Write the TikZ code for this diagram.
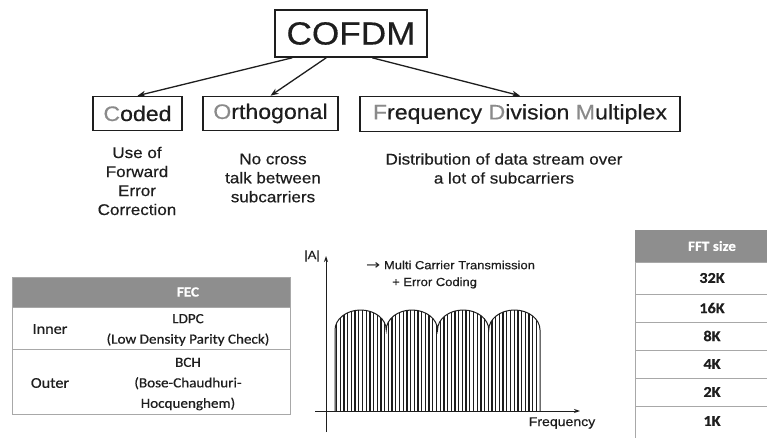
\documentclass[tikz,border=0pt]{standalone}
\usepackage{fontspec}
\setmainfont{Liberation Sans}[FakeStretch=1.1,FakeBold=0.4]
\newfontfamily\tabfont{Carlito}[FakeStretch=1.08,FakeBold=0.6]
\newfontfamily\symfont{DejaVu Sans}[FakeStretch=1.3]
\usetikzlibrary{arrows.meta}
\definecolor{lgr}{HTML}{8A8A8A}
\definecolor{hdr}{HTML}{8E8E8E}
\definecolor{tline}{HTML}{A8A8A8}
\definecolor{ink}{HTML}{1E1E1E}
\tikzset{
  topbox/.style={draw=ink, line width=1.6pt, inner sep=0pt, text=ink},
  conn/.style={-{Stealth[length=8pt,width=6pt]}, line width=1.3pt, draw=ink},
  axisarrow/.style={-{Stealth[length=6pt,width=4pt]}, line width=1pt, draw=ink},
  desc/.style={align=center, text=ink, inner sep=0pt, font=\fontsize{15.5}{19}\selectfont},
  plotlbl/.style={text=ink, inner sep=0pt, font=\fontsize{11.8}{14}\selectfont},
  tabtxt/.style={align=center, text=ink, inner sep=0pt, font=\tabfont\fontsize{14}{20.5}\selectfont},
  sidetxt/.style={text=ink, inner sep=0pt, font=\tabfont\fontsize{15}{18}\selectfont},
  fftxt/.style={text=ink, inner sep=0pt, font=\tabfont\bfseries\fontsize{15}{17}\selectfont},
  hdrtxt/.style={text=white, inner sep=0pt, font=\tabfont\bfseries\fontsize{14}{17}\selectfont},
  tabline/.style={draw=tline, line width=0.8pt}
}
\newcommand\humpoutline{(335,411) -- (335,330)
  \foreach \a in {335,386.25,437.5,488.75} {
    .. controls (\a,318.96) and ({\a+11.475},310) .. ({\a+25.625},310)
    .. controls ({\a+39.775},310) and ({\a+51.25},318.96) .. ({\a+51.25},330)
  } -- (540,411)}
\begin{document}
\begin{tikzpicture}[x=1pt,y=-1pt]
\useasboundingbox[fill=white] (0,0) rectangle (767,438);

% top boxes
\node[topbox, minimum width=152pt, minimum height=47pt, font=\fontsize{32}{36}\selectfont] (cofdm) at (351,33.5) {COFDM};
\node[topbox, minimum width=89pt, minimum height=34pt, font=\fontsize{21}{24}\selectfont] (coded) at (137.5,113.5) {{\color{lgr}C}oded};
\node[topbox, minimum width=135pt, minimum height=34pt, font=\fontsize{21}{24}\selectfont] (orth) at (270.5,113.5) {{\color{lgr}O}rthogonal};
\node[topbox, minimum width=320pt, minimum height=35pt, font=\fontsize{21}{24}\selectfont] (fdm) at (520,114) {{\color{lgr}F}requency {\color{lgr}D}ivision {\color{lgr}M}ultiplex};

\draw[conn] ([xshift=18pt]cofdm.south west) -- (coded.north);
\draw[conn] ([xshift=52pt]cofdm.south west) -- (orth.north);
\draw[conn] ([xshift=98pt]cofdm.south west) -- (fdm.north);

% descriptions
\node[desc] (d1) at (137,181) {Use of\\Forward\\Error\\Correction};
\node[desc] (d2) at (273,178) {No cross\\talk between\\subcarriers};
\node[desc] (d3) at (504,168.5) {Distribution of data stream over\\a lot of subcarriers};

% FEC table
\fill[hdr] (12,277) rectangle (290,307);
\draw[tabline] (12,277) rectangle (290,414);
\draw[tabline] (12,307) -- (290,307);
\draw[tabline] (12,349) -- (290,349);
\node[hdrtxt] (fech) at (188,292) {FEC};
\node[sidetxt] (inner) at (50,329) {Inner};
\node[tabtxt] (ldpc) at (188,330) {LDPC\\(Low Density Parity Check)};
\node[sidetxt] (outer) at (50,383) {Outer};
\node[tabtxt] (bch) at (188,384) {BCH\\(Bose-Chaudhuri-\\Hocquenghem)};

% spectrum plot
\begin{scope}
  \clip \humpoutline -- cycle;
  \foreach \x in {336.6,340.3,...,540} {\draw[ink, line width=1.3pt] (\x,300) -- (\x,412);}
\end{scope}
\draw[ink, line width=1pt] \humpoutline;
\coordinate (ybot) at (326,432);
\coordinate (ytop) at (326,256);
\coordinate (xl) at (315,411);
\coordinate (xr) at (580,411);
\draw[axisarrow] (ybot) -- (ytop);
\draw[axisarrow] (xl) -- (xr);
\node[plotlbl] (alab) at (312,256) {|A|};
\node[plotlbl, anchor=west] (mct) at (366,265) {{\symfont\fontsize{13}{14}\selectfont →} Multi Carrier Transmission};
\node[plotlbl, anchor=west] (ec) at (392,283) {+ Error Coding};
\node[plotlbl, font=\fontsize{12.8}{15}\selectfont] (freq) at (562,423) {Frequency};

% FFT table
\fill[hdr] (635,230) rectangle (767,262);
\draw[tabline] (635,262) -- (635,438);
\foreach \yy in {262,294,322,350,378,406} {\draw[tabline] (635,\yy) -- (767,\yy);}
\node[hdrtxt] (ffth) at (712,246) {FFT size};
\node[fftxt] (f32) at (712,278) {32K};
\node[fftxt] (f16) at (712,308) {16K};
\node[fftxt] (f8) at (712,336) {8K};
\node[fftxt] (f4) at (712,364) {4K};
\node[fftxt] (f2) at (712,392) {2K};
\node[fftxt] (f1) at (712,421) {1K};
\end{tikzpicture}
\end{document}
